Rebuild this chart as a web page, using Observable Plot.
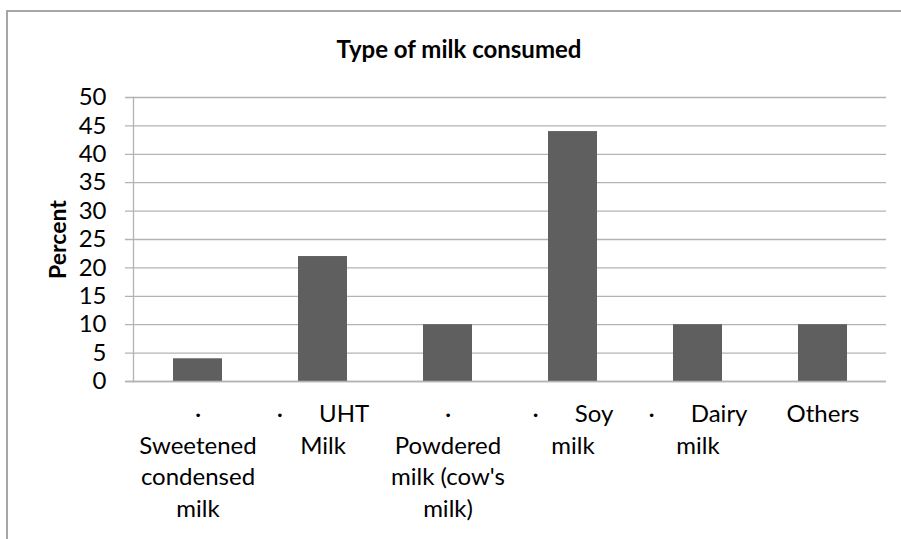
<!DOCTYPE html>
<html>
<head>
<meta charset="utf-8">
<script src="https://cdn.jsdelivr.net/npm/d3@7"></script>
<script src="https://cdn.jsdelivr.net/npm/@observablehq/plot@0.6"></script>
<style>
  html, body { margin: 0; padding: 0; background: #fff; }
  #wrap { position: relative; width: 901px; height: 539px; overflow: hidden; background: #fff; }
  #border { position: absolute; left: 6px; top: 10px; width: 1000px; height: 1000px;
            border-left: 2px solid #a6a6a6; border-top: 2px solid #a6a6a6; }
  #chart { position: absolute; left: 0; top: 0; }
</style>
</head>
<body>
<div id="wrap"><div id="border"></div><div id="chart"></div></div>
<script>
const categories = ["Sweetened condensed milk", "UHT Milk", "Powdered milk (cow's milk)", "Soy milk", "Dairy milk", "Others"];
const values = [4, 22, 10, 44, 10, 10];
const tickLabels = [
  "·\nSweetened\ncondensed\nmilk",
  "·\u2003\u2003UHT\nMilk",
  "·\nPowdered\nmilk (cow's\nmilk)",
  "·\u2003\u2003Soy\nmilk",
  "·\u2003\u2003Dairy\nmilk",
  "Others"
];
const yTicks = [0, 5, 10, 15, 20, 25, 30, 35, 40, 45, 50];
const titleText = "Type of milk consumed";
const yLabel = "Percent";

const data = categories.map((c, i) => ({category: c, value: values[i]}));
const labelOf = new Map(categories.map((c, i) => [c, tickLabels[i]]));

const chart = Plot.plot({
  width: 901,
  height: 539,
  marginLeft: 133,
  marginRight: 15,
  marginTop: 97,
  marginBottom: 158,
  style: {fontFamily: "Lato, sans-serif", fontSize: "24px", color: "#000", background: "transparent"},
  x: {domain: categories, paddingInner: 0.61, paddingOuter: 0.305, axis: null, label: null},
  y: {domain: [0, 50], axis: null, label: null},
  marks: [
    Plot.ruleY(yTicks, {stroke: "#b3b3b3", strokeWidth: 1.3, insetLeft: -8}),
    Plot.frame({anchor: "left", stroke: "#b3b3b3", strokeWidth: 1.3}),
    Plot.barY(data, {x: "category", y: "value", fill: "#5f5f5f"}),
    Plot.ruleY([0], {stroke: "#b3b3b3", strokeWidth: 1.6, insetLeft: -8}),
    Plot.axisY({ticks: yTicks, tickSize: 0, tickPadding: 27, fill: "#000", fontSize: 24, label: null}),
    Plot.axisX({tickSize: 0, tickPadding: 18, tickFormat: d => labelOf.get(d), lineHeight: 1.32, fill: "#000", fontSize: 24, label: null}),
    Plot.text([titleText], {frameAnchor: "top", text: d => d, dx: -51, dy: -40, lineAnchor: "bottom", fontWeight: "bold", fontSize: 24, fill: "#000"}),
    Plot.text([yLabel], {frameAnchor: "left", text: d => d, rotate: -90, dx: -75, textAnchor: "middle", lineAnchor: "middle", fontWeight: "bold", fontSize: 23, fill: "#000"})
  ]
});
document.getElementById("chart").appendChild(chart);
</script>
</body>
</html>
